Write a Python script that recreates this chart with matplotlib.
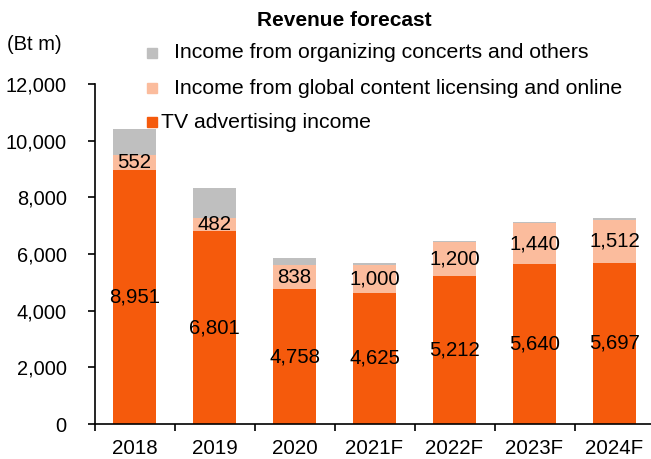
import matplotlib.pyplot as plt
import matplotlib.patches as mpatches
import numpy as np

plt.rcParams['font.family'] = ['Liberation Sans', 'DejaVu Sans']

# data
years = ['2018', '2019', '2020', '2021F', '2022F', '2023F', '2024F']
tv_ads = [8951, 6801, 4758, 4625, 5212, 5640, 5697]
licensing = [552, 482, 838, 1000, 1200, 1440, 1512]
concerts = [900, 1050, 280, 40, 40, 50, 60]
series_names = ['Income from organizing concerts and others',
                'Income from global content licensing and online',
                'TV advertising income']

c_tv = '#F55A0C'
c_lic = '#FBBC9D'
c_con = '#BFBFBF'

W, H = 651, 459
fig = plt.figure(figsize=(W / 100, H / 100), dpi=100)
ax = fig.add_axes([94.5 / W, 1 - 424 / H, 560 / W, 340 / H])

x = np.arange(len(years))
w = 0.53
tv_ads = np.array(tv_ads)
licensing = np.array(licensing)
concerts = np.array(concerts)

ax.bar(x, tv_ads, w, color=c_tv, edgecolor='none')
ax.bar(x, licensing, w, bottom=tv_ads, color=c_lic, edgecolor='none')
ax.bar(x, concerts, w, bottom=tv_ads + licensing, color=c_con, edgecolor='none')

# labels in the middle of each segment
for i in range(len(years)):
    ax.text(x[i], tv_ads[i] / 2, f'{tv_ads[i]:,}', ha='center', va='center', fontsize=14.7)
    ax.text(x[i], tv_ads[i] + licensing[i] / 2, f'{licensing[i]:,}', ha='center', va='center',
            fontsize=14.7)

ax.set_xlim(-0.5, len(years) - 0.5)
ax.set_ylim(0, 12000)
ax.set_yticks(range(0, 12001, 2000))
ax.set_yticklabels([f'{v:,}' for v in range(0, 12001, 2000)], fontsize=14.4)
ax.set_xticks(x)
ax.set_xticklabels(years, fontsize=14.8)
ax.tick_params(axis='x', which='major', length=0, pad=11)
ax.set_xticks(np.arange(-0.5, len(years), 1), minor=True)
ax.tick_params(axis='x', which='minor', length=5, width=1.2, direction='out')
ax.tick_params(axis='y', length=5, width=1.2, direction='out', pad=15)
for s in ['left', 'bottom']:
    ax.spines[s].set_linewidth(1.2)

ax.spines['top'].set_visible(False)
ax.spines['right'].set_visible(False)

fig.text(344 / W, 1 - 20 / H, 'Revenue forecast', ha='center', va='center', fontsize=15,
         fontweight='bold')
fig.text(7 / W, 1 - 45 / H, '(Bt m)', ha='left', va='center', fontsize=14.5)

# legend drawn by hand to keep the uneven gap of the reference
colors = [c_con, c_lic, c_tv]
rows_y = [53, 88, 122]
text_x = [174, 174, 161]
for name, col, ry, tx in zip(series_names, colors, rows_y, text_x):
    fig.patches.append(mpatches.Rectangle((147 / W, 1 - (ry + 5) / H), 10 / W, 10 / H,
                                          transform=fig.transFigure, color=col, figure=fig))
    fig.text(tx / W, 1 - ry / H, name, ha='left', va='center', fontsize=15.3)

fig.savefig('out.png', dpi=100)
